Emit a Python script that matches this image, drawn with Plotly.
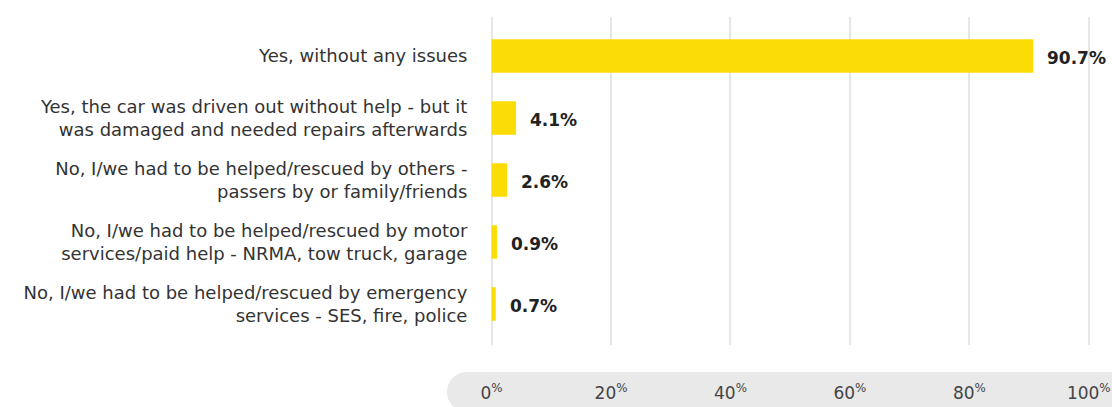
import plotly.graph_objects as go

categories = [
    "Yes, without any issues",
    "Yes, the car was driven out without help - but it<br>was damaged and needed repairs afterwards",
    "No, I/we had to be helped/rescued by others -<br>passers by or family/friends",
    "No, I/we had to be helped/rescued by motor<br>services/paid help - NRMA, tow truck, garage",
    "No, I/we had to be helped/rescued by emergency<br>services - SES, fire, police",
]
values = [90.7, 4.1, 2.6, 0.9, 0.7]
tick_vals = [0, 20, 40, 60, 80, 100]
tick_text = [f"{v}<sup>%</sup>" for v in tick_vals]

W, H = 1112, 407
L, R, T, B = 491, 22, 17, 62
pw, ph = W - L - R, H - T - B

fig = go.Figure()
fig.add_trace(go.Bar(
    x=values, y=categories, orientation="h",
    marker=dict(color="#FBDC04", line=dict(width=0)),
    width=0.54, hoverinfo="skip",
))

for c, v in zip(categories, values):
    fig.add_annotation(x=v, y=c, text=f"<b>{v}%</b>", showarrow=False,
                       xanchor="left", xshift=12, yshift=-2,
                       font=dict(family="DejaVu Sans", size=17, color="#222222"))

# gray rounded pill behind x tick labels
x0 = (447 - L) / pw
x1 = 1.1
yt = -(372 - (T + ph)) / ph
yb = -(412 - (T + ph)) / ph
rx = 20 / pw
ry = 20 / ph
ym = (yt + yb) / 2
k = 0.5523
path = (f"M {x0+rx},{yt} L {x1},{yt} L {x1},{yb} L {x0+rx},{yb} "
        f"C {x0+rx-k*rx},{yb} {x0},{ym-k*ry} {x0},{ym} "
        f"C {x0},{ym+k*ry} {x0+rx-k*rx},{yt} {x0+rx},{yt} Z")
fig.add_shape(type="path", path=path, xref="paper", yref="paper",
              fillcolor="#E9E9E9", line=dict(width=0), layer="below")

fig.update_layout(
    width=W, height=H,
    margin=dict(l=L, r=R, t=T, b=B, autoexpand=False),
    paper_bgcolor="white", plot_bgcolor="white",
    showlegend=False,
    font=dict(family="DejaVu Sans", color="#333333"),
)
fig.update_xaxes(
    range=[-0.1, 100.2], tickvals=tick_vals, ticktext=tick_text,
    showgrid=True, gridcolor="#E6E6E6", gridwidth=2,
    zeroline=True, zerolinecolor="#E6E6E6", zerolinewidth=2,
    showline=False,
    ticks="outside", ticklen=0, ticklabelstandoff=33,
    tickfont=dict(family="DejaVu Sans", size=17, color="#444444"),
    fixedrange=True,
)
fig.update_yaxes(
    categoryorder="array", categoryarray=categories,
    range=[4.661, -0.629],
    showgrid=False, zeroline=False, showline=False,
    ticks="outside", ticklen=0, ticklabelstandoff=19,
    tickfont=dict(family="DejaVu Sans", size=18, color="#333333"),
    fixedrange=True,
)
fig.write_html("out.html", config={"displayModeBar": False},
               post_script="document.body.style.margin='0';document.body.style.overflow='hidden';")
